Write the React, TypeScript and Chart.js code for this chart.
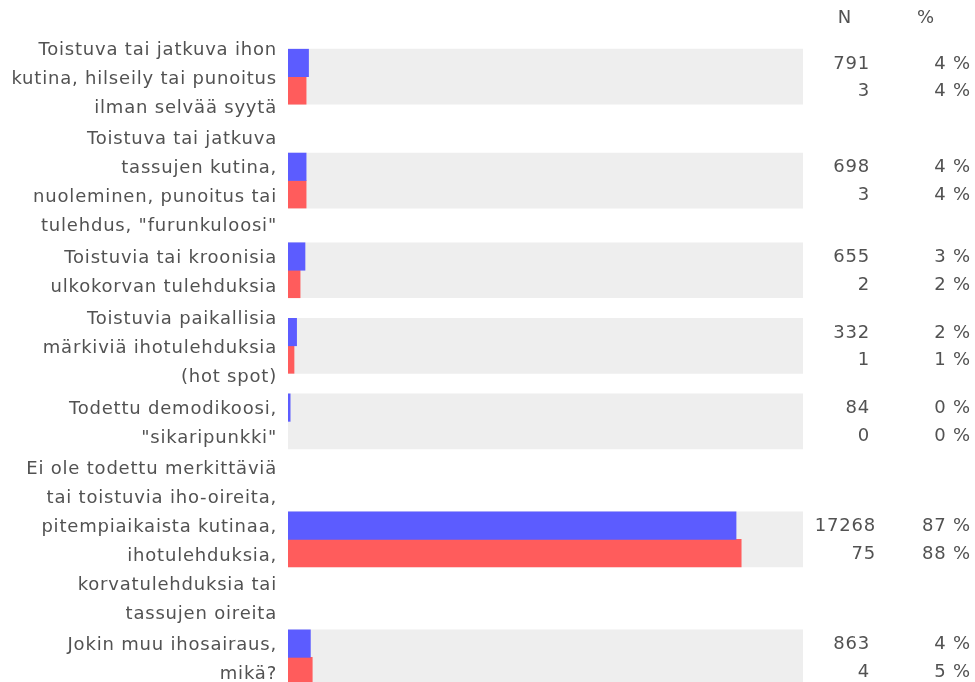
import React, { useEffect, useRef } from "react";
import { Chart, registerables } from "chart.js";

Chart.register(...registerables);

const LABELS: string[][] = [
  ["Toistuva tai jatkuva ihon", "kutina, hilseily tai punoitus", "ilman selvää syytä"],
  ["Toistuva tai jatkuva", "tassujen kutina,", "nuoleminen, punoitus tai", 'tulehdus, "furunkuloosi"'],
  ["Toistuvia tai kroonisia", "ulkokorvan tulehduksia"],
  ["Toistuvia paikallisia", "märkiviä ihotulehduksia", "(hot spot)"],
  ["Todettu demodikoosi,", '"sikaripunkki"'],
  [
    "Ei ole todettu merkittäviä",
    "tai toistuvia iho-oireita,",
    "pitempiaikaista kutinaa,",
    "ihotulehduksia,",
    "korvatulehduksia tai",
    "tassujen oireita",
  ],
  ["Jokin muu ihosairaus,", "mikä?"],
];

const N_BLUE = [791, 698, 655, 332, 84, 17268, 863];
const N_RED = [3, 3, 2, 1, 0, 75, 4];
const PCT_BLUE = [3.99, 3.52, 3.3, 1.67, 0.42, 87.0, 4.35];
const PCT_RED = [3.52, 3.52, 2.35, 1.17, 0, 88.0, 4.71];
const HEADERS = ["N", "%"];

// layout constants (pixels)
const W = 975;
const H = 682;
const LINE = 28.3;
const TEXT_LINE = 29;
const TEXT_DY = 2.5;
const GAP = 4.8;
const TOP = 31.85;
const BAR = 27.5;
const FONT = "DejaVu Sans";
const FONT_SIZE = 18;
const TEXT = "#525252";
const N_RIGHT = 870;
const PCT_RIGHT = 971;

// row centers derived from number of label lines
const CENTERS: number[] = (() => {
  const out: number[] = [];
  let y = TOP;
  LABELS.forEach((l) => {
    const h = l.length * LINE + GAP;
    out.push(y + h / 2);
    y += h;
  });
  return out;
})();

const columnsPlugin = {
  id: "columns",
  beforeUpdate(chart: any) {
    chart.ctx.letterSpacing = "0.8px";
  },
  beforeDraw(chart: any) {
    chart.ctx.letterSpacing = "0.8px";
  },
  afterDraw(chart: any) {
    const ctx = chart.ctx;
    const y = chart.scales.y;
    ctx.save();
    ctx.letterSpacing = "0.8px";
    ctx.font = `${FONT_SIZE}px "${FONT}"`;
    ctx.fillStyle = TEXT;
    ctx.textBaseline = "middle";
    ctx.textAlign = "center";
    ctx.fillText(HEADERS[0], 845, 18);
    ctx.fillText(HEADERS[1], 926, 18);
    CENTERS.forEach((c, i) => {
      const yb = y.getPixelForValue(c - BAR / 2);
      const yr = y.getPixelForValue(c + BAR / 2);
      // each row is its own table: a wider number widens the N cell
      const wide = String(Math.max(N_BLUE[i], N_RED[i])).length >= 5 ? 6 : 0;
      ctx.textAlign = "right";
      ctx.fillText(String(N_BLUE[i]), N_RIGHT + wide, yb + 1);
      ctx.fillText(String(N_RED[i]), N_RIGHT + wide, yr + 1);
      ctx.fillText(`${Math.round(PCT_BLUE[i])} %`, PCT_RIGHT, yb + 1);
      ctx.fillText(`${Math.round(PCT_RED[i])} %`, PCT_RIGHT, yr + 1);
    });
    ctx.restore();
  },
};

const hideZero = (color: string) => (c: any) => (c.raw && c.raw.x === 0 ? "rgba(0,0,0,0)" : color);

export default function App() {
  const ref = useRef<HTMLCanvasElement | null>(null);
  useEffect(() => {
    if (!ref.current) return;
    const chart = new Chart(ref.current, {
      type: "bar",
      data: {
        datasets: [
          {
            label: "blue",
            data: CENTERS.map((c, i) => ({ x: PCT_BLUE[i], y: c - BAR / 2 })),
            backgroundColor: hideZero("#5c5cff"),
            grouped: false,
            order: 1,
          } as any,
          {
            label: "red",
            data: CENTERS.map((c, i) => ({ x: PCT_RED[i], y: c + BAR / 2 })),
            backgroundColor: hideZero("#ff5c5c"),
            grouped: false,
            order: 1,
          } as any,
          {
            label: "bg",
            data: CENTERS.flatMap((c) => [
              { x: 100, y: c - BAR / 2 },
              { x: 100, y: c + BAR / 2 },
            ]),
            backgroundColor: "#eeeeee",
            grouped: false,
            order: 2,
          } as any,
        ],
      },
      options: {
        indexAxis: "y",
        animation: false,
        responsive: false,
        events: [],
        barThickness: BAR,
        layout: { padding: { left: 0, right: W - 803, top: 0, bottom: 0 } },
        plugins: { legend: { display: false }, tooltip: { enabled: false } },
        scales: {
          x: { type: "linear", min: 0, max: 100, display: false },
          y: {
            type: "linear",
            min: 0,
            max: H,
            reverse: true,
            offset: false,
            grid: { display: false, drawTicks: false },
            border: { display: false },
            ticks: {
              autoSkip: false,
              padding: 11,
              color: TEXT,
              font: { family: FONT, size: FONT_SIZE, lineHeight: TEXT_LINE / FONT_SIZE },
              callback: (_v: any, i: number) => LABELS[i],
            },
            afterBuildTicks: (s: any) => {
              s.ticks = CENTERS.map((v) => ({ value: v + TEXT_DY }));
            },
            afterFit: (s: any) => {
              s.width = 288;
              s.paddingTop = 0;
              s.paddingBottom = 0;
            },
          },
        },
      } as any,
      plugins: [columnsPlugin],
    });
    return () => chart.destroy();
  }, []);
  return (
    <div style={{ position: "fixed", left: 0, top: 0, width: W, height: H, background: "#fff" }}>
      <canvas ref={ref} width={W} height={H} style={{ width: W, height: H, display: "block" }} />
    </div>
  );
}
